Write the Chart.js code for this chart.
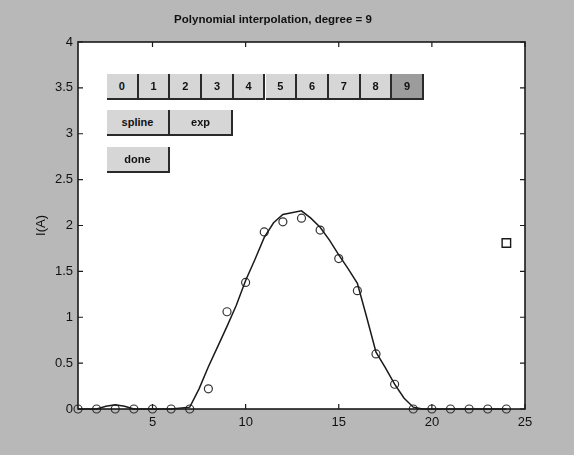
<!DOCTYPE html>
<html>
<head>
<meta charset="utf-8">
<script src="https://cdn.jsdelivr.net/npm/chart.js@4"></script>
<style>
  html, body { margin: 0; padding: 0; }
  body { width: 574px; height: 455px; background: #b8b8b8; position: relative; overflow: hidden; font-family: "Liberation Sans", Arial, sans-serif; }
  #wrap { position: absolute; left: 0; top: 0; width: 574px; height: 455px; }
  .btn { position: absolute; height: 26px; background: #d6d6d6; color: #111; font-size: 11px; font-weight: bold;
         text-align: center; line-height: 25px; box-sizing: border-box;
         border-right: 2px solid #2a2a2a; border-bottom: 2px solid #2a2a2a; }
  .btn.on { background: #9c9c9c; }
</style>
</head>
<body>
<div id="wrap"><canvas id="lineChart" width="574" height="455"></canvas></div>
<div id="buttons"></div>
<script>
// measured samples (circles)
const sampleX = [1, 2, 3, 4, 5, 6, 7, 8, 9, 10, 11, 12, 13, 14, 15, 16, 17, 18, 19, 20, 21, 22, 23, 24];
const sampleY = [0, 0, 0, 0, 0, 0, 0, 0.22, 1.06, 1.38, 1.93, 2.04, 2.08, 1.95, 1.64, 1.29, 0.6, 0.27, 0, 0, 0, 0, 0, 0];

// interpolating curve
const curveX = [1, 2, 2.5, 3, 3.5, 4, 5, 6, 7, 7.5, 8, 8.5, 9, 9.5, 10, 10.5, 11, 11.5, 12, 13, 13.5, 14, 14.5, 15, 15.5, 16, 16.5, 17, 17.5, 18, 18.5, 19, 19.5, 20, 21, 22, 23, 24];
const curveY = [0, 0, 0.03, 0.045, 0.03, 0, 0, 0, 0.02, 0.22, 0.46, 0.68, 0.9, 1.13, 1.4, 1.63, 1.87, 2.03, 2.12, 2.16, 2.08, 1.98, 1.84, 1.68, 1.53, 1.37, 1.0, 0.62, 0.45, 0.27, 0.12, 0.02, 0, 0, 0, 0, 0, 0];

// drag handle
const handleX = [24];
const handleY = [1.81];

const xTickValues = [5, 10, 15, 20, 25];
const degreeLabels = ['0', '1', '2', '3', '4', '5', '6', '7', '8', '9'];
const methodLabels = ['spline', 'exp'];

// uicontrol buttons
const btnBox = document.getElementById('buttons');
function addButton(text, left, top, width, on) {
  const b = document.createElement('div');
  b.className = 'btn' + (on ? ' on' : '');
  b.style.left = left + 'px';
  b.style.top = top + 'px';
  b.style.width = width + 'px';
  b.textContent = text;
  btnBox.appendChild(b);
}
degreeLabels.forEach((t, i) => addButton(t, 107 + i * 31.7, 74, 31.7, t === '9'));
methodLabels.forEach((t, i) => addButton(t, 107 + i * 63, 110, 63, false));
addButton('done', 107, 147, 63, false);

// white axes box with inward ticks, matlab style
const axesBox = {
  id: 'axesBox',
  beforeDraw(chart) {
    const a = chart.chartArea;
    const ctx = chart.ctx;
    ctx.save();
    ctx.fillStyle = '#ffffff';
    ctx.fillRect(a.left, a.top, a.right - a.left, a.bottom - a.top);
    ctx.restore();
  },
  afterDatasetsDraw(chart) {
    const a = chart.chartArea;
    const ctx = chart.ctx;
    const xs = chart.scales.x;
    const ys = chart.scales.y;
    ctx.save();
    ctx.strokeStyle = '#1a1a1a';
    ctx.lineWidth = 1.6;
    ctx.strokeRect(a.left, a.top, a.right - a.left, a.bottom - a.top);
    ctx.lineWidth = 1.2;
    ctx.beginPath();
    xs.ticks.forEach((t) => {
      const px = xs.getPixelForValue(t.value);
      ctx.moveTo(px, a.bottom); ctx.lineTo(px, a.bottom - 5);
      ctx.moveTo(px, a.top); ctx.lineTo(px, a.top + 5);
    });
    ys.ticks.forEach((t) => {
      const py = ys.getPixelForValue(t.value);
      ctx.moveTo(a.left, py); ctx.lineTo(a.left + 5, py);
      ctx.moveTo(a.right, py); ctx.lineTo(a.right - 5, py);
    });
    ctx.stroke();
    ctx.restore();
  }
};

const font = '"Liberation Sans", Arial, sans-serif';

const ctx = document.getElementById('lineChart').getContext('2d');
new Chart(ctx, {
  type: 'scatter',
  data: {
    datasets: [
      {
        label: 'curve',
        data: curveX.map((x, i) => ({ x: x, y: curveY[i] })),
        showLine: true,
        borderColor: '#1a1a1a',
        borderWidth: 1.5,
        pointRadius: 0,
        tension: 0,
      },
      {
        label: 'samples',
        data: sampleX.map((x, i) => ({ x: x, y: sampleY[i] })),
        pointStyle: 'circle',
        pointRadius: 4,
        borderColor: '#333333',
        borderWidth: 1.2,
        backgroundColor: 'rgba(0,0,0,0)',
      },
      {
        label: 'handle',
        data: handleX.map((x, i) => ({ x: x, y: handleY[i] })),
        pointStyle: 'rect',
        pointRadius: 6,
        borderColor: '#1a1a1a',
        borderWidth: 1.4,
        backgroundColor: 'rgba(0,0,0,0)',
      },
    ],
  },
  options: {
    responsive: false,
    animation: false,
    events: [],
    clip: false,
    layout: { padding: { left: 0, right: 28, top: 0, bottom: 0 } },
    plugins: {
      legend: { display: false },
      tooltip: { enabled: false },
      title: {
        display: true,
        text: 'Polynomial interpolation, degree = 9',
        color: '#111',
        font: { family: font, size: 11.5, weight: 'bold' },
        padding: { top: 13, bottom: 15.2 },
      },
    },
    scales: {
      x: {
        type: 'linear',
        min: 1,
        max: 25,
        afterBuildTicks: (scale) => { scale.ticks = xTickValues.map((v) => ({ value: v })); },
        afterFit: (scale) => { scale.height = 46; },
        grid: { display: false, drawTicks: false },
        border: { display: false },
        ticks: { color: '#111', padding: 6, font: { family: font, size: 13 } },
      },
      y: {
        type: 'linear',
        min: 0,
        max: 4,
        afterFit: (scale) => { scale.width = 78; },
        grid: { display: false, drawTicks: false },
        border: { display: false },
        ticks: {
          stepSize: 0.5,
          color: '#111',
          padding: 5,
          font: { family: font, size: 13 },
          callback: (v) => String(v),
        },
        title: {
          display: true,
          text: 'I(A)',
          color: '#111',
          padding: { top: 34, bottom: 0 },
          font: { family: font, size: 13 },
        },
      },
      // spacer on the right so the title centres like the original
      y2: {
        type: 'linear',
        position: 'right',
        min: 0,
        max: 4,
        afterFit: (scale) => { scale.width = 21; },
        grid: { display: false, drawTicks: false },
        border: { display: false },
        ticks: { display: false },
      },
    },
  },
  plugins: [axesBox],
});
</script>
</body>
</html>
